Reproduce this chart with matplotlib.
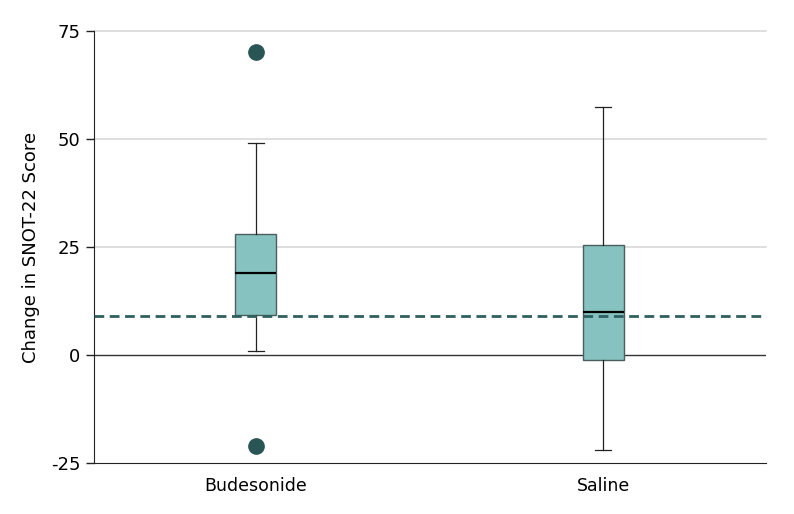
import matplotlib.pyplot as plt

# Dados
grupos = ['Budesonide', 'Saline']
mediana = [19.0, 10.0]
q1 = [9.2, -1.2]
q3 = [28.0, 25.5]
whisk_min = [0.9, -22.0]
whisk_max = [49.0, 57.3]
outliers = [[70.0, -21.1], []]
limiar = 9.0  # linha tracejada (MCID)

yticks = [-25, 0, 25, 50, 75]

stats = []
for i, g in enumerate(grupos):
    stats.append({'label': g, 'med': mediana[i], 'q1': q1[i], 'q3': q3[i],
                  'whislo': whisk_min[i], 'whishi': whisk_max[i], 'fliers': outliers[i]})

fig = plt.figure(figsize=(7.94, 5.14), dpi=100)
ax = fig.add_axes([0.118, 0.099, 0.847, 0.841])

for y in [25, 50, 75]:
    ax.axhline(y, color='#d9d9d9', linewidth=1.2, zorder=0, clip_on=False)
ax.axhline(0, color='#333333', linewidth=1.0, zorder=1)

ax.bxp(stats, positions=[1, 2], widths=0.118, patch_artist=True, showfliers=True,
       boxprops=dict(facecolor='#86c2bf', edgecolor='#4d5e5e', linewidth=1.0),
       medianprops=dict(color='black', linewidth=1.6),
       whiskerprops=dict(color='#222222', linewidth=0.9),
       capprops=dict(color='#222222', linewidth=0.9),
       capwidths=0.046,
       flierprops=dict(marker='o', markerfacecolor='#2a5555', markeredgecolor='#2a5555',
                       markersize=11),
       zorder=2)

ax.axhline(limiar, color='#2f5f5f', linewidth=2, linestyle=(0, (3.5, 2)), zorder=3)

ax.set_xlim(1 - 0.467, 2 + 0.47)
ax.set_ylim(-25, 75)
ax.set_yticks(yticks)
ax.set_yticklabels([str(t) for t in yticks], fontsize=13)
ax.set_xticks([1, 2])
ax.set_xticklabels(grupos, fontsize=12.5)
ax.tick_params(axis='x', length=0, pad=10)
ax.tick_params(axis='y', length=6, width=1, color='#222222')
ax.set_ylabel('Change in SNOT-22 Score', fontsize=13, labelpad=8)

ax.spines['top'].set_visible(False)
ax.spines['right'].set_visible(False)
ax.spines['left'].set_color('#222222')
ax.spines['bottom'].set_color('#222222')

plt.savefig('out.png', dpi=100)
